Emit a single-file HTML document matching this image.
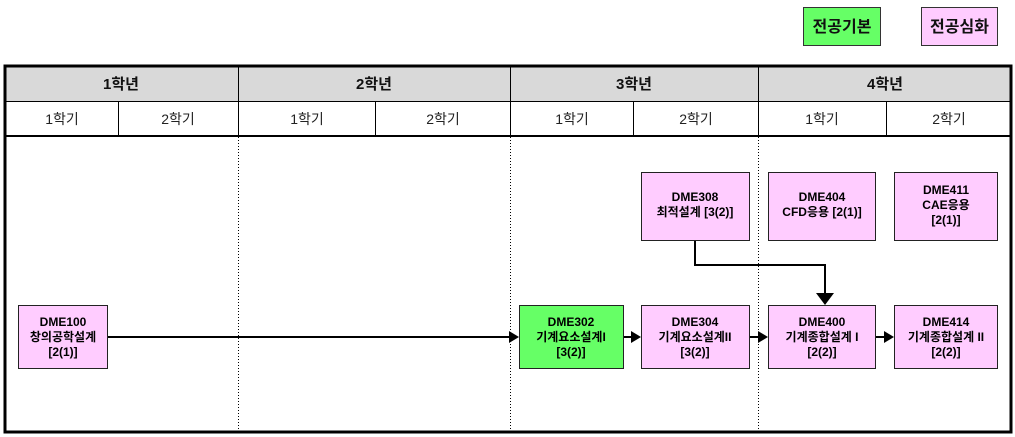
<!DOCTYPE html>
<html><head><meta charset="utf-8"><style>
html,body{margin:0;padding:0;background:#fff;width:1015px;height:437px;overflow:hidden}
svg{display:block}
text{font-family:"Liberation Sans","Noto Sans CJK KR","NanumGothic",sans-serif}
.h{font-size:15px;font-weight:bold;fill:#111}
.s{font-size:14px;fill:#222}
.b{font-size:12px;font-weight:bold;fill:#000}
.l{font-size:16px;font-weight:bold;fill:#111}
</style></head><body>
<svg width="1015" height="437" viewBox="0 0 1015 437" xmlns="http://www.w3.org/2000/svg">
<!-- legend -->
<rect x="803.5" y="7.5" width="77" height="38" fill="#66ff66" stroke="#333"/>
<text class="l" x="842" y="32" text-anchor="middle">전공기본</text>
<rect x="921.5" y="7.5" width="76" height="38" fill="#ffccff" stroke="#333"/>
<text class="l" x="959.5" y="32" text-anchor="middle">전공심화</text>
<!-- header -->
<rect x="5" y="67" width="1006" height="34" fill="#d9d9d9"/>
<line x1="5" y1="101.5" x2="1011" y2="101.5" stroke="#000" stroke-width="1"/>
<line x1="5" y1="136" x2="1011" y2="136" stroke="#000" stroke-width="2"/>
<g stroke="#000" stroke-width="1">
<line x1="238.5" y1="67" x2="238.5" y2="136"/>
<line x1="510.5" y1="67" x2="510.5" y2="136"/>
<line x1="758.5" y1="67" x2="758.5" y2="136"/>
<line x1="118.5" y1="101" x2="118.5" y2="136"/>
<line x1="375.5" y1="101" x2="375.5" y2="136"/>
<line x1="633.5" y1="101" x2="633.5" y2="136"/>
<line x1="886.5" y1="101" x2="886.5" y2="136"/>
</g>
<g stroke="#000" stroke-width="1" stroke-dasharray="1,2">
<line x1="238.5" y1="137" x2="238.5" y2="432"/>
<line x1="510.5" y1="137" x2="510.5" y2="432"/>
<line x1="758.5" y1="137" x2="758.5" y2="432"/>
</g>
<rect x="5" y="66" width="1006" height="366" fill="none" stroke="#000" stroke-width="3"/>
<text class="h" x="121" y="89" text-anchor="middle">1학년</text>
<text class="h" x="374" y="89" text-anchor="middle">2학년</text>
<text class="h" x="634" y="89" text-anchor="middle">3학년</text>
<text class="h" x="885" y="89" text-anchor="middle">4학년</text>
<g class="s" text-anchor="middle">
<text x="62" y="124">1학기</text><text x="178" y="124">2학기</text>
<text x="307" y="124">1학기</text><text x="443" y="124">2학기</text>
<text x="572" y="124">1학기</text><text x="696" y="124">2학기</text>
<text x="822" y="124">1학기</text><text x="949" y="124">2학기</text>
</g>
<!-- connectors -->
<g stroke="#000" stroke-width="2" fill="none">
<line x1="107" y1="337" x2="509" y2="337"/>
<line x1="623" y1="337" x2="632" y2="337"/>
<line x1="749" y1="337" x2="758" y2="337"/>
<line x1="875" y1="337" x2="884" y2="337"/>
<polyline points="695,240 695,265 825,265 825,293"/>
</g>
<g fill="#000">
<polygon points="509,331 519,337 509,343"/>
<polygon points="631,331 641,337 631,343"/>
<polygon points="758,331 768,337 758,343"/>
<polygon points="884,331 894,337 884,343"/>
<polygon points="816,293 834,293 825,305"/>
</g>
<!-- boxes -->
<g stroke="#222" stroke-width="1">
<rect x="18.5" y="305.5" width="89" height="63" fill="#ffccff"/>
<rect x="519.5" y="305.5" width="104" height="63" fill="#66ff66"/>
<rect x="641.5" y="305.5" width="108" height="63" fill="#ffccff"/>
<rect x="768.5" y="305.5" width="107" height="63" fill="#ffccff"/>
<rect x="894.5" y="305.5" width="103" height="63" fill="#ffccff"/>
<rect x="641.5" y="172.5" width="108" height="68" fill="#ffccff"/>
<rect x="768.5" y="172.5" width="107" height="68" fill="#ffccff"/>
<rect x="894.5" y="172.5" width="103" height="68" fill="#ffccff"/>
</g>
<g class="b" text-anchor="middle">
<text x="63" y="326">DME100</text><text x="63" y="341">창의공학설계</text><text x="63" y="356">[2(1)]</text>
<text x="571" y="326">DME302</text><text x="571" y="341">기계요소설계I</text><text x="571" y="356">[3(2)]</text>
<text x="695" y="326">DME304</text><text x="695" y="341">기계요소설계II</text><text x="695" y="356">[3(2)]</text>
<text x="822" y="326">DME400</text><text x="822" y="341">기계종합설계 I</text><text x="822" y="356">[2(2)]</text>
<text x="946" y="326">DME414</text><text x="946" y="341">기계종합설계 II</text><text x="946" y="356">[2(2)]</text>
<text x="695" y="201">DME308</text><text x="695" y="216">최적설계 [3(2)]</text>
<text x="822" y="201">DME404</text><text x="822" y="216">CFD응용 [2(1)]</text>
<text x="946" y="194">DME411</text><text x="946" y="209">CAE응용</text><text x="946" y="224">[2(1)]</text>
</g>
</svg>
</body></html>
